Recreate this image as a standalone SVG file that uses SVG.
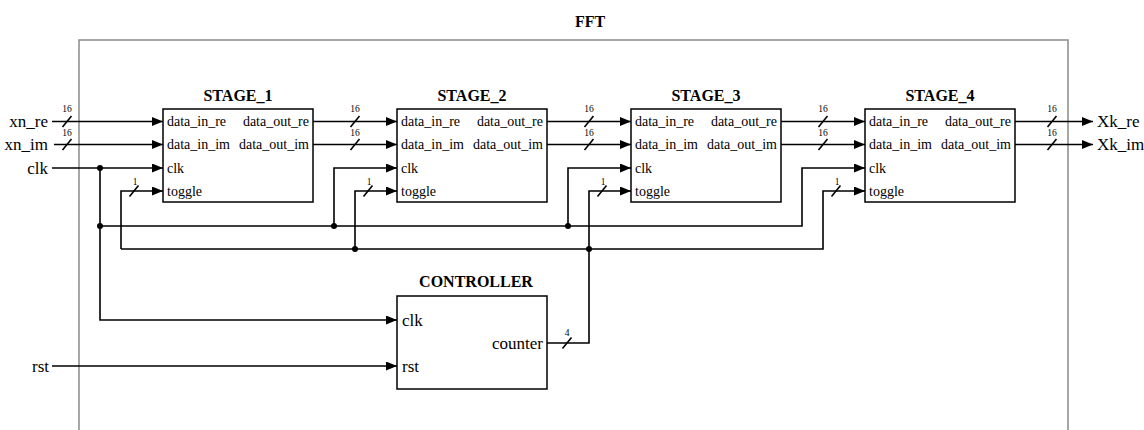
<svg xmlns="http://www.w3.org/2000/svg" width="1144" height="430" viewBox="0 0 1144 430">
<defs>
<marker id="arr" markerUnits="userSpaceOnUse" markerWidth="11" markerHeight="9" refX="11" refY="4.5" orient="auto">
<path d="M0,0 L11,4.5 L0,9 z" fill="#000"/>
</marker>
<style>
text{font-family:"Liberation Serif","Times New Roman",serif;fill:#000}
.title{font-size:16px;font-weight:bold;text-anchor:middle}
.port{font-size:14px}
.cport{font-size:17px}
.io{font-size:17px}
.bw{font-size:9.5px;text-anchor:middle}
.box{fill:#fff;stroke:#000;stroke-width:1.5}
.w{fill:none;stroke:#000;stroke-width:1.6}
.a{marker-end:url(#arr)}
.dot{fill:#000}
</style>
</defs>
<rect width="1144" height="430" fill="#fff"/>
<g id="fft">
<rect x="79" y="40" width="989" height="400" fill="none" stroke="#8a8a8a" stroke-width="1.5"/>
<text class="title" x="590" y="27">FFT</text>
</g>
<g id="connectors">
<path class="w a" d="M52,121.5H163"/>
<path class="w a" d="M54,144.5H163"/>
<path class="w a" d="M52,168H163"/>
<path class="w a" d="M313,121.5H397"/>
<path class="w a" d="M313,144.5H397"/>
<path class="w a" d="M547,121.5H631"/>
<path class="w a" d="M547,144.5H631"/>
<path class="w a" d="M781,121.5H865"/>
<path class="w a" d="M781,144.5H865"/>
<path class="w a" d="M1015,121.5H1093"/>
<path class="w a" d="M1015,144.5H1093"/>
<path class="w a" d="M100,168V320H397"/>
<path class="w a" d="M100,226H802V168H865"/>
<path class="w a" d="M334,226V168H397"/>
<path class="w a" d="M568,226V168H631"/>
<path class="w a" d="M121,249V191H163"/>
<path class="w a" d="M121,249H823V191H865"/>
<path class="w a" d="M355,249V191H397"/>
<path class="w a" d="M547,343H589V191H631"/>
<path class="w a" d="M52,366H397"/>
<circle class="dot" cx="100" cy="168" r="3"/>
<circle class="dot" cx="100" cy="226" r="3"/>
<circle class="dot" cx="334" cy="226" r="3"/>
<circle class="dot" cx="568" cy="226" r="3"/>
<circle class="dot" cx="355" cy="249" r="3"/>
<circle class="dot" cx="589" cy="249" r="3"/>
<g class="w">
<path d="M62.5,127L71.5,116M62.5,150L71.5,139"/>
<path d="M350.5,127L359.5,116M350.5,150L359.5,139"/>
<path d="M584.5,127L593.5,116M584.5,150L593.5,139"/>
<path d="M818.5,127L827.5,116M818.5,150L827.5,139"/>
<path d="M1047.5,127L1056.5,116M1047.5,150L1056.5,139"/>
<path d="M129.5,196.5L138.5,185.5M363.5,196.5L372.5,185.5M597.5,196.5L606.5,185.5M831.5,196.5L840.5,185.5"/>
<path d="M562.5,348.5L571.5,337.5"/>
</g>
<text class="bw" x="67" y="112">16</text>
<text class="bw" x="67" y="136">16</text>
<text class="bw" x="355" y="112">16</text>
<text class="bw" x="355" y="136">16</text>
<text class="bw" x="589" y="112">16</text>
<text class="bw" x="589" y="136">16</text>
<text class="bw" x="823" y="112">16</text>
<text class="bw" x="823" y="136">16</text>
<text class="bw" x="1052" y="112">16</text>
<text class="bw" x="1052" y="136">16</text>
<text class="bw" x="135" y="185">1</text>
<text class="bw" x="369" y="185">1</text>
<text class="bw" x="603" y="185">1</text>
<text class="bw" x="837" y="185">1</text>
<text class="bw" x="567" y="336">4</text>
</g>
<g id="inputs">
<text class="io" x="48" y="127" text-anchor="end">xn_re</text>
<text class="io" x="48" y="150" text-anchor="end">xn_im</text>
<text class="io" x="48" y="174" text-anchor="end">clk</text>
<text class="io" x="49" y="372" text-anchor="end">rst</text>
</g>
<g id="outputs">
<text class="io" x="1097" y="127">Xk_re</text>
<text class="io" x="1097" y="150">Xk_im</text>
</g>
<g id="stage1">
<text class="title" x="238" y="101">STAGE_1</text>
<rect class="box" x="163" y="109" width="150" height="93"/>
<text class="port" x="167" y="126">data_in_re</text>
<text class="port" x="167" y="149">data_in_im</text>
<text class="port" x="167" y="172.5">clk</text>
<text class="port" x="167" y="195.5">toggle</text>
<text class="port" x="309" y="126" text-anchor="end">data_out_re</text>
<text class="port" x="309" y="149" text-anchor="end">data_out_im</text>
</g>
<g id="stage2">
<text class="title" x="472" y="101">STAGE_2</text>
<rect class="box" x="397" y="109" width="150" height="93"/>
<text class="port" x="401" y="126">data_in_re</text>
<text class="port" x="401" y="149">data_in_im</text>
<text class="port" x="401" y="172.5">clk</text>
<text class="port" x="401" y="195.5">toggle</text>
<text class="port" x="543" y="126" text-anchor="end">data_out_re</text>
<text class="port" x="543" y="149" text-anchor="end">data_out_im</text>
</g>
<g id="stage3">
<text class="title" x="706" y="101">STAGE_3</text>
<rect class="box" x="631" y="109" width="150" height="93"/>
<text class="port" x="635" y="126">data_in_re</text>
<text class="port" x="635" y="149">data_in_im</text>
<text class="port" x="635" y="172.5">clk</text>
<text class="port" x="635" y="195.5">toggle</text>
<text class="port" x="777" y="126" text-anchor="end">data_out_re</text>
<text class="port" x="777" y="149" text-anchor="end">data_out_im</text>
</g>
<g id="stage4">
<text class="title" x="940" y="101">STAGE_4</text>
<rect class="box" x="865" y="109" width="150" height="93"/>
<text class="port" x="869" y="126">data_in_re</text>
<text class="port" x="869" y="149">data_in_im</text>
<text class="port" x="869" y="172.5">clk</text>
<text class="port" x="869" y="195.5">toggle</text>
<text class="port" x="1011" y="126" text-anchor="end">data_out_re</text>
<text class="port" x="1011" y="149" text-anchor="end">data_out_im</text>
</g>
<g id="controller">
<text class="title" x="476" y="287">CONTROLLER</text>
<rect class="box" x="397" y="296" width="150" height="93"/>
<text class="cport" x="402" y="326">clk</text>
<text class="cport" x="402" y="372">rst</text>
<text class="cport" x="543" y="349" text-anchor="end">counter</text>
</g>
</svg>
